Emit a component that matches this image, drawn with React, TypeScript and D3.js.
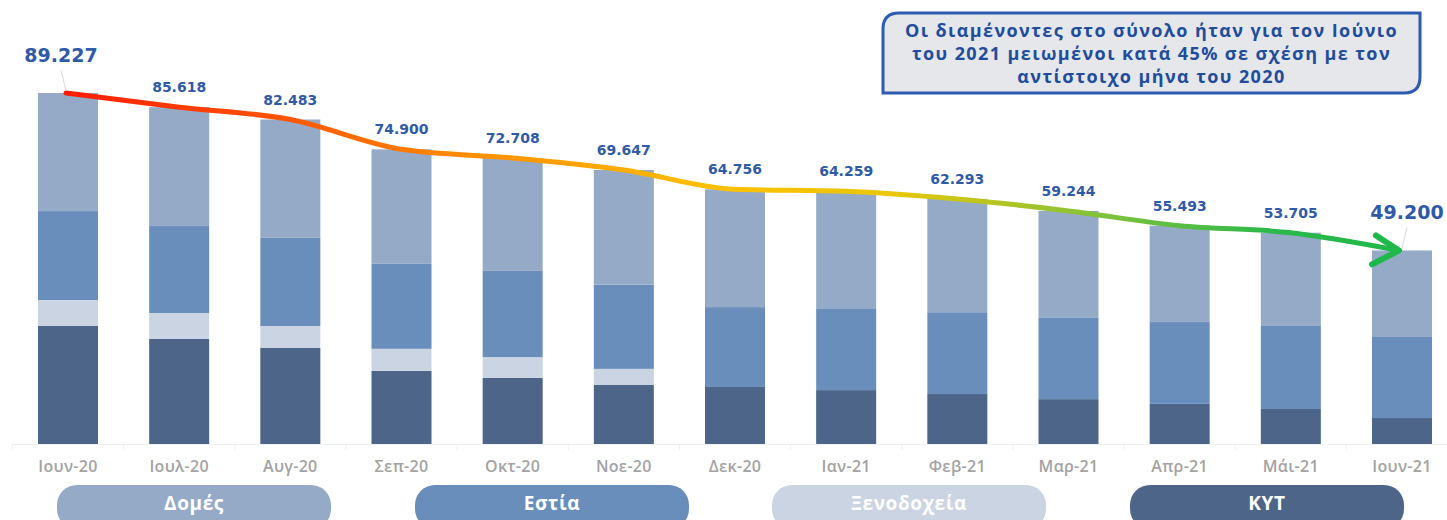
import * as d3 from 'd3';
import React, { useEffect, useRef } from 'react';

// months (x axis)
const months = ['Ιουν-20', 'Ιουλ-20', 'Αυγ-20', 'Σεπ-20', 'Οκτ-20', 'Νοε-20', 'Δεκ-20', 'Ιαν-21', 'Φεβ-21', 'Μαρ-21', 'Απρ-21', 'Μάι-21', 'Ιουν-21'];

// series, bottom to top
const kyt = [30000, 26700, 24400, 18600, 16800, 15000, 14500, 13700, 12700, 11400, 10200, 8900, 6600];
const xenodoxeia = [6600, 6600, 5600, 5600, 5300, 4100, 0, 0, 0, 0, 0, 0, 0];
const estia = [22600, 22100, 22400, 21600, 21900, 21400, 20300, 20800, 20800, 20800, 20800, 21100, 20600];
const domes = [30027, 30218, 30083, 29100, 28708, 29147, 29956, 29759, 28793, 27044, 24493, 23705, 22000];

// totals shown above the bars
const totals = [89227, 85618, 82483, 74900, 72708, 69647, 64756, 64259, 62293, 59244, 55493, 53705, 49200];
const totalLabels = ['89.227', '85.618', '82.483', '74.900', '72.708', '69.647', '64.756', '64.259', '62.293', '59.244', '55.493', '53.705', '49.200'];

const seriesNames = ['ΚΥΤ', 'Ξενοδοχεία', 'Εστία', 'Δομές'];
const seriesColors = ['#4c6588', '#cbd4e2', '#6a8ebb', '#94aac7'];
const legendOrder = ['Δομές', 'Εστία', 'Ξενοδοχεία', 'ΚΥΤ'];

const noteLines = [
  'Οι διαμένοντες στο σύνολο ήταν για τον Ιούνιο',
  'του 2021 μειωμένοι κατά 45% σε σχέση με τον',
  'αντίστοιχο μήνα του 2020',
];

const W = 1447;
const H = 520;

const App = () => {
  const ref = useRef<SVGSVGElement>(null);

  useEffect(() => {
    document.body.style.margin = '0';
    const svg = d3.select(ref.current);
    svg.selectAll('*').remove();

    const x = d3.scalePoint<string>().domain(months).range([68, 1402]);
    const barW = 60;
    const y = d3.scaleLinear().domain([0, 100000]).range([444, 50.6]);

    const rows = months.map((m, i) => ({
      month: m,
      'ΚΥΤ': kyt[i],
      'Ξενοδοχεία': xenodoxeia[i],
      'Εστία': estia[i],
      'Δομές': domes[i],
    }));
    const stacked = d3.stack<any>().keys(seriesNames)(rows);
    const color = d3.scaleOrdinal<string, string>().domain(seriesNames).range(seriesColors);

    // faint axis line + ticks
    const axisG = svg.append('g');
    axisG.append('line')
      .attr('x1', 12).attr('x2', 1458).attr('y1', 444.5).attr('y2', 444.5)
      .attr('stroke', '#eef0f3').attr('stroke-width', 1);
    axisG.selectAll('line.tick')
      .data(d3.range(months.length + 1))
      .enter().append('line')
      .attr('x1', (i) => 68 - x.step() / 2 + i * x.step())
      .attr('x2', (i) => 68 - x.step() / 2 + i * x.step())
      .attr('y1', 444).attr('y2', 450)
      .attr('stroke', '#eef0f3');

    // stacked bars
    svg.append('g')
      .selectAll('g')
      .data(stacked)
      .enter().append('g')
      .attr('fill', (d) => color(d.key))
      .selectAll('rect')
      .data((d) => d)
      .enter().append('rect')
      .attr('x', (d: any) => (x(d.data.month) as number) - barW / 2)
      .attr('width', barW)
      .attr('y', (d) => y(d[1]))
      .attr('height', (d) => y(d[0]) - y(d[1]));

    // month labels
    svg.append('g')
      .selectAll('text')
      .data(months)
      .enter().append('text')
      .attr('x', (d) => x(d) as number)
      .attr('y', 472)
      .attr('text-anchor', 'middle')
      .attr('font-family', '"Open Sans", sans-serif')
      .attr('font-weight', 600)
      .attr('font-size', 16)
      .attr('letter-spacing', 0.3)
      .attr('fill', '#a3a3a3')
      .text((d) => d);

    // trend line with gradient
    const defs = svg.append('defs');
    const grad = defs.append('linearGradient')
      .attr('id', 'trend-grad')
      .attr('gradientUnits', 'userSpaceOnUse')
      .attr('x1', 60).attr('y1', 0).attr('x2', 1405).attr('y2', 0);
    const stops = [
      { o: '0%', c: '#ff1a00' },
      { o: '18%', c: '#ff5a00' },
      { o: '30%', c: '#ff8c00' },
      { o: '48%', c: '#ffbf00' },
      { o: '62%', c: '#e8c70a' },
      { o: '78%', c: '#7cc23c' },
      { o: '90%', c: '#2cb84a' },
      { o: '100%', c: '#1fb84a' },
    ];
    grad.selectAll('stop').data(stops).enter().append('stop')
      .attr('offset', (d) => d.o).attr('stop-color', (d) => d.c);

    const pts: [number, number][] = months.map((m, i) => [x(m) as number, y(totals[i])]);
    pts[0][0] = 66;
    pts[pts.length - 1][0] = 1399;
    const line = d3.line().curve(d3.curveMonotoneX);
    svg.append('path')
      .attr('d', line(pts))
      .attr('fill', 'none')
      .attr('stroke', 'url(#trend-grad)')
      .attr('stroke-width', 5)
      .attr('stroke-linecap', 'round');

    // arrow head
    const tip = pts[pts.length - 1];
    svg.append('path')
      .attr('d', `M${tip[0] - 23},${tip[1] - 15} L${tip[0]},${tip[1]} L${tip[0] - 27},${tip[1] + 14}`)
      .attr('fill', 'none')
      .attr('stroke', '#1fb84a')
      .attr('stroke-width', 6)
      .attr('stroke-linecap', 'round')
      .attr('stroke-linejoin', 'round');

    // total labels
    const isBig = (i: number) => i === 0 || i === months.length - 1;
    const labelY = (i: number) => y(totals[i]) - (isBig(i) ? 31 : 15);
    const labelX = (i: number) => (i === 0 ? 61 : i === months.length - 1 ? 1407 : (x(months[i]) as number));

    svg.append('g')
      .selectAll('line')
      .data([0, months.length - 1])
      .enter().append('line')
      .attr('x1', (i) => labelX(i)).attr('y1', (i) => labelY(i) + 8)
      .attr('x2', (i) => (i === 0 ? 66 : 1402)).attr('y2', (i) => y(totals[i]) - 2)
      .attr('stroke', '#d9d9d9').attr('stroke-width', 1);

    svg.append('g')
      .selectAll('text')
      .data(totalLabels)
      .enter().append('text')
      .attr('x', (d, i) => labelX(i))
      .attr('y', (d, i) => labelY(i))
      .attr('text-anchor', 'middle')
      .attr('font-family', '"DejaVu Sans", Verdana, sans-serif')
      .attr('font-weight', 'bold')
      .attr('font-size', (d, i) => (isBig(i) ? 19 : 14))
      .attr('fill', '#2f5aa8')
      .text((d) => d);

    // legend pills
    const pillX = [57, 415, 772, 1130];
    const pillW = 274;
    const leg = svg.append('g')
      .selectAll('g')
      .data(legendOrder)
      .enter().append('g')
      .attr('transform', (d, i) => `translate(${pillX[i]},485)`);
    leg.append('rect')
      .attr('width', pillW).attr('height', 44).attr('rx', 20).attr('ry', 20)
      .attr('fill', (d) => color(d));
    leg.append('text')
      .attr('x', pillW / 2).attr('y', 25)
      .attr('text-anchor', 'middle')
      .attr('font-family', '"Open Sans", sans-serif')
      .attr('font-weight', 700)
      .attr('font-size', 19)
      .attr('letter-spacing', 0.6)
      .attr('fill', '#ffffff')
      .text((d) => d);

    // annotation box (rounded top-left and bottom-right corners)
    const bx = 883, by = 13, bw = 537, bh = 80, r = 16;
    const note = svg.append('g');
    note.append('path')
      .attr('d', `M${bx + r},${by} H${bx + bw} V${by + bh - r} Q${bx + bw},${by + bh} ${bx + bw - r},${by + bh} H${bx} V${by + r} Q${bx},${by} ${bx + r},${by} Z`)
      .attr('fill', '#e5e7eb')
      .attr('stroke', '#2c5bb0')
      .attr('stroke-width', 3);
    note.selectAll('text')
      .data(noteLines)
      .enter().append('text')
      .attr('x', bx + bw / 2)
      .attr('y', (d, i) => by + 24 + i * 23)
      .attr('text-anchor', 'middle')
      .attr('font-family', '"Open Sans", sans-serif')
      .attr('font-weight', 700)
      .attr('font-size', 18)
      .attr('letter-spacing', 1.4)
      .attr('fill', '#1f4d9b')
      .text((d) => d);
  }, []);

  return (
    <svg ref={ref} width={W} height={H} style={{ display: 'block', background: '#ffffff' }} />
  );
};

export default App;
